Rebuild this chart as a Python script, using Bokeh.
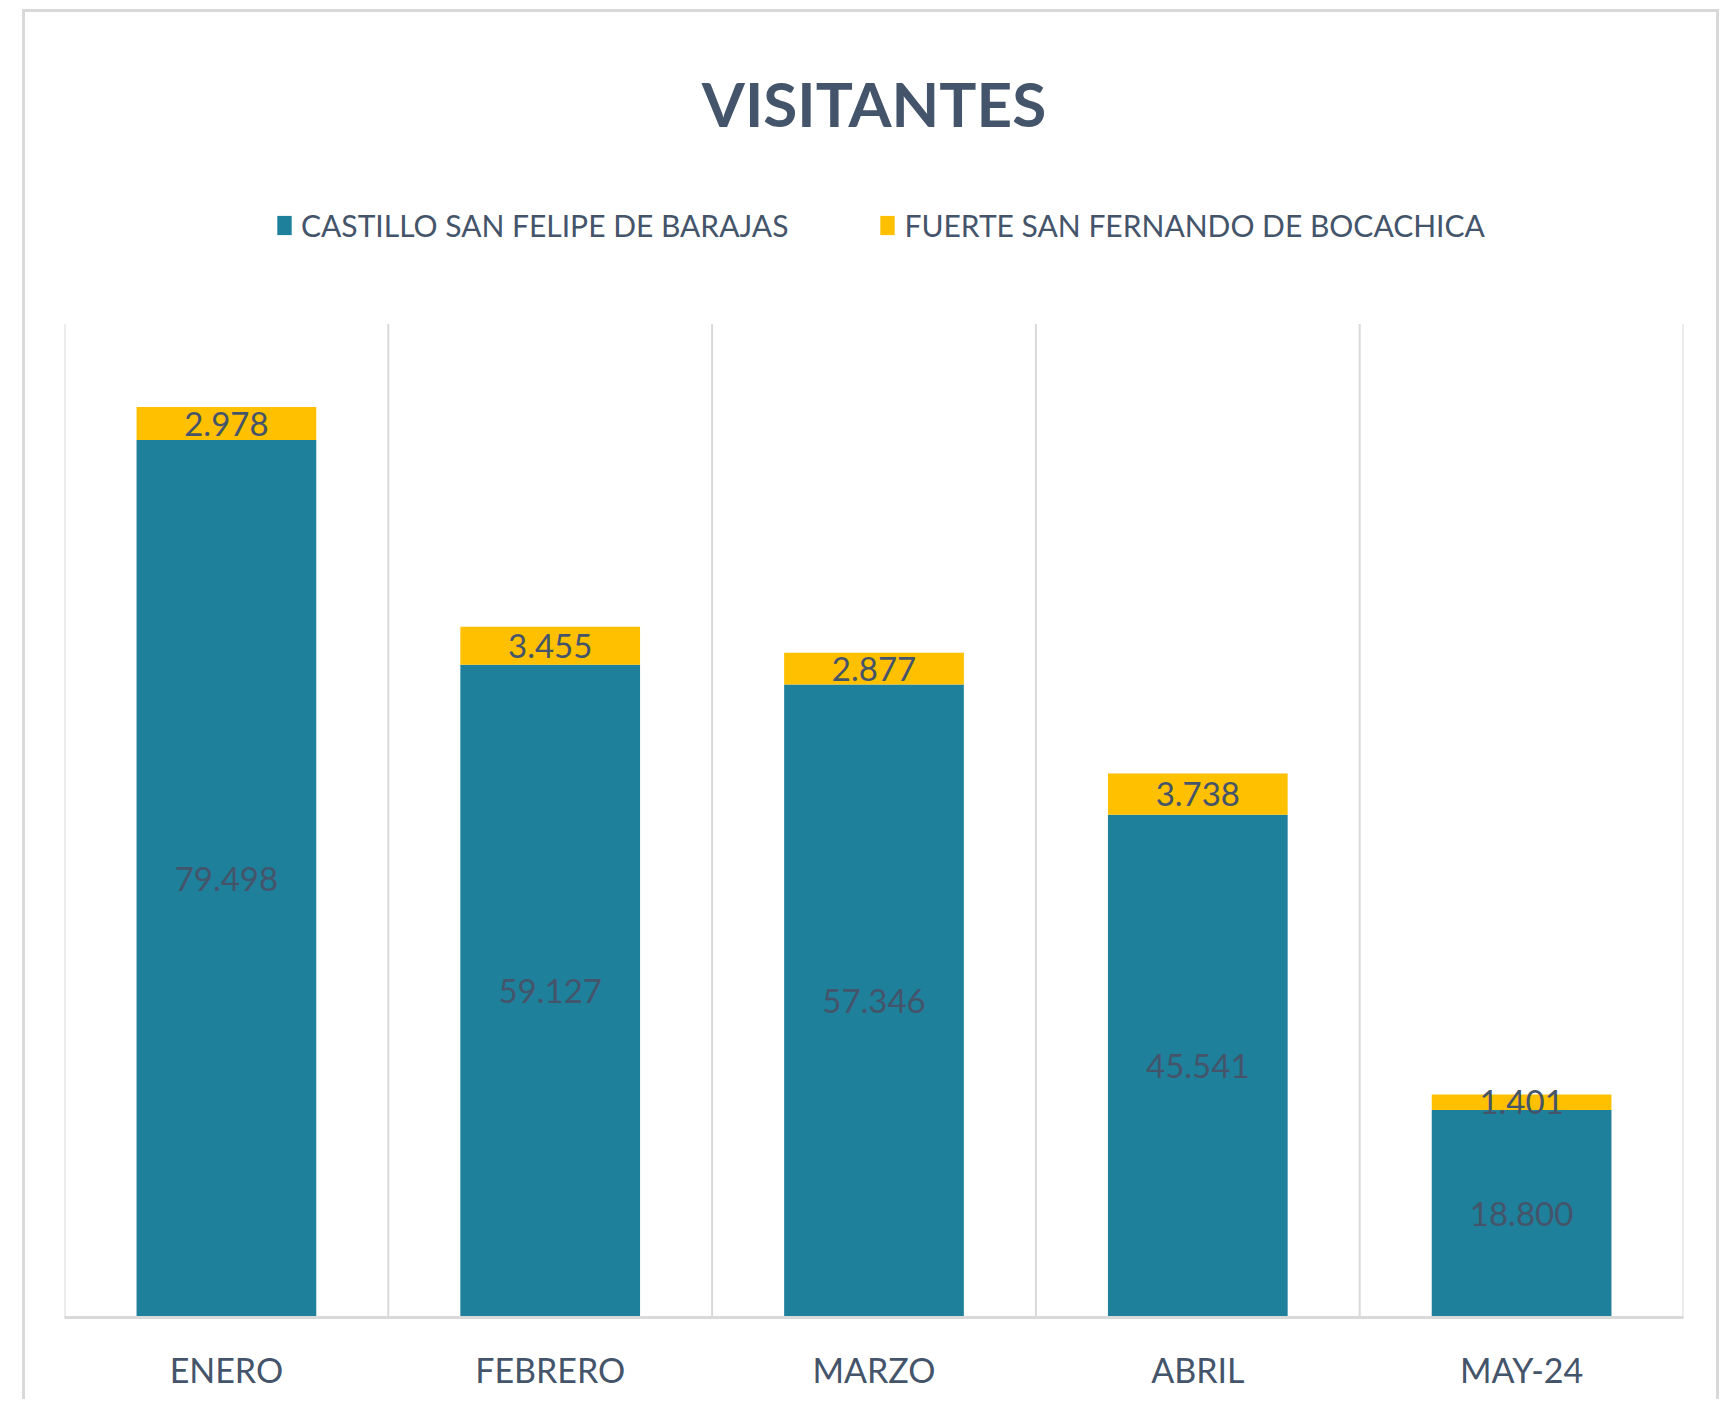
from bokeh.plotting import figure
from bokeh.models import (ColumnDataSource, LabelSet, Legend, LegendItem,
                          Range1d, FactorRange)
from bokeh.core.properties import value
from bokeh.embed import file_html
from bokeh.resources import INLINE

# ---- data ----
categories = ["ENERO", "FEBRERO", "MARZO", "ABRIL", "MAY-24"]
castillo = [79498, 59127, 57346, 45541, 18800]
fuerte = [2978, 3455, 2877, 3738, 1401]
series_names = ["CASTILLO SAN FELIPE DE BARAJAS", "FUERTE SAN FERNANDO DE BOCACHICA"]
title_text = "VISITANTES"
value_axis_max = 90000      # top of the value axis (grid lines end here)
view_top = 105000           # extra head-room inside the frame for the legend

TEAL = "#1F809B"
GOLD = "#FFC000"
TXT = "#44546A"
GRID = "#D9D9D9"
FONT = "Lato"

def fmt(v):
    return f"{v:,}".replace(",", ".")

src = ColumnDataSource(dict(
    x=categories,
    castillo=castillo,
    fuerte=fuerte,
    y_c=[c / 2 for c in castillo],
    y_f=[c + f / 2 for c, f in zip(castillo, fuerte)],
    t_c=[fmt(v) for v in castillo],
    t_f=[fmt(v) for v in fuerte],
))

p = figure(x_range=FactorRange(*categories, range_padding=0), y_range=Range1d(0, view_top),
           width=1697, height=1390, output_backend="svg", toolbar_location=None,
           min_border_left=39, min_border_right=39, min_border_top=146, min_border_bottom=85,
           margin=(9, 0, 0, 22),
           styles={"border-left": f"3px solid {GRID}", "border-top": f"3px solid {GRID}",
                   "border-right": f"3px solid {GRID}"})

p.title.text = title_text
p.title.align = "center"
p.title.text_font = FONT
p.title.text_font_size = "62px"
p.title.text_font_style = "bold"
p.title.text_color = TXT
p.title.standoff = 38

# vertical grid lines at the category boundaries, up to the value-axis top
bounds = list(range(len(categories) + 1))
p.segment(x0=bounds, y0=[0] * len(bounds), x1=bounds, y1=[value_axis_max] * len(bounds),
          line_color=GRID, line_width=2)

renderers = p.vbar_stack(["castillo", "fuerte"], x="x", width=0.555, source=src,
                         color=[TEAL, GOLD], line_color=None)

p.xgrid.visible = False
p.ygrid.visible = False
p.outline_line_color = None
p.yaxis.visible = False
ax = p.xaxis[0]
ax.axis_line_color = GRID
ax.axis_line_width = 3
ax.major_tick_line_color = None
ax.minor_tick_line_color = None
ax.major_label_standoff = 25
ax.major_label_text_font = FONT
ax.major_label_text_font_size = "34px"
ax.major_label_text_color = TXT

for col, tcol in (("y_c", "t_c"), ("y_f", "t_f")):
    ls = LabelSet(x="x", y=col, text=tcol, source=src, text_align="center",
                  text_baseline="middle", text_font=value(FONT), text_font_size="33px",
                  text_color=TXT)
    p.add_layout(ls)

legend = Legend(items=[LegendItem(label=series_names[i], renderers=[renderers[i]]) for i in range(2)],
                orientation="horizontal", location=(211, 1074), spacing=90, padding=0, margin=0,
                border_line_color=None, background_fill_alpha=0, glyph_width=18, glyph_height=24,
                label_standoff=8, label_text_font=FONT, label_text_font_size="30px",
                label_text_color=TXT)
p.add_layout(legend, "center")

open("out.html", "w").write(file_html(p, INLINE))
